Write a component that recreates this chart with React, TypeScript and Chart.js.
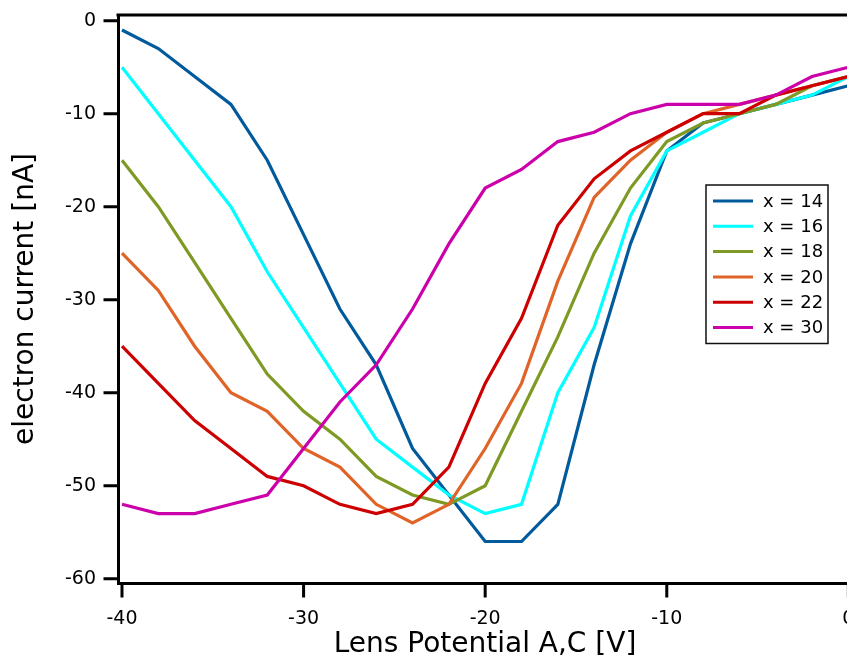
import React, { useEffect, useRef } from "react";
import { Chart, registerables } from "chart.js";

Chart.register(...registerables);

const lensPotential = [-40, -38, -36, -34, -32, -30, -28, -26, -24, -22, -20, -18, -16, -14, -12, -10, -8, -6, -4, -2, 0];

const current14 = [-1, -3, -6, -9, -15, -23, -31, -37, -46, -51, -56, -56, -52, -37, -24, -14, -11, -10, -9, -8, -7];
const current16 = [-5, -10, -15, -20, -27, -33, -39, -45, -48, -51, -53, -52, -40, -33, -21, -14, -12, -10, -9, -8, -6];
const current18 = [-15, -20, -26, -32, -38, -42, -45, -49, -51, -52, -50, -42, -34, -25, -18, -13, -11, -10, -9, -7, -6];
const current20 = [-25, -29, -35, -40, -42, -46, -48, -52, -54, -52, -46, -39, -28, -19, -15, -12, -10, -9, -8, -7, -6];
const current22 = [-35, -39, -43, -46, -49, -50, -52, -53, -52, -48, -39, -32, -22, -17, -14, -12, -10, -10, -8, -7, -6];
const current30 = [-52, -53, -53, -52, -51, -46, -41, -37, -31, -24, -18, -16, -13, -12, -10, -9, -9, -9, -8, -6, -5];

const seriesLabels = ["x = 14", "x = 16", "x = 18", "x = 20", "x = 22", "x = 30"];
const seriesColors = ["#005A9C", "#00FFFF", "#7E9A24", "#E06428", "#CC0000", "#CC00AA"];
const seriesValues = [current14, current16, current18, current20, current22, current30];

const xTicks = [-40, -30, -20, -10, 0];
const yTicks = [-60, -50, -40, -30, -20, -10, 0];

const FONT = '"DejaVu Sans", sans-serif';
const TICK_LEN = 14.5;

const framePlugin = {
  id: "frameAndLegend",
  afterDraw(chart: any) {
    const ctx = chart.ctx;
    const area = chart.chartArea;
    const xs = chart.scales.x;
    const ys = chart.scales.y;
    ctx.save();
    ctx.strokeStyle = "#000";
    ctx.lineWidth = 3;
    ctx.lineCap = "butt";
    // top & right frame
    ctx.beginPath();
    ctx.moveTo(area.left - 1.5, area.top);
    ctx.lineTo(area.right, area.top);
    ctx.lineTo(area.right, area.bottom + 1.5);
    ctx.stroke();
    // outward tick marks
    ctx.beginPath();
    for (const v of xTicks) {
      const px = xs.getPixelForValue(v);
      ctx.moveTo(px, area.bottom);
      ctx.lineTo(px, area.bottom + TICK_LEN);
    }
    for (const v of yTicks) {
      const py = ys.getPixelForValue(v);
      ctx.moveTo(area.left, py);
      ctx.lineTo(area.left - TICK_LEN, py);
    }
    ctx.stroke();

    // legend box
    const ds = chart.data.datasets;
    const left = 706;
    const top = 185;
    const w = 122;
    const pad = 16;
    const rowH = 25.3;
    const h = pad * 2 + rowH * (ds.length - 1);
    ctx.fillStyle = "#fff";
    ctx.fillRect(left, top, w, h);
    ctx.strokeStyle = "#111";
    ctx.lineWidth = 1.5;
    ctx.strokeRect(left, top, w, h);
    ctx.font = `18px ${FONT}`;
    ctx.textBaseline = "middle";
    ctx.textAlign = "left";
    ds.forEach((d: any, i: number) => {
      const y = top + pad + i * rowH;
      ctx.strokeStyle = d.borderColor;
      ctx.lineWidth = 3;
      ctx.beginPath();
      ctx.moveTo(left + 7, y);
      ctx.lineTo(left + 47, y);
      ctx.stroke();
      ctx.fillStyle = "#000";
      ctx.fillText(d.label, left + 57, y + 1);
    });
    ctx.restore();
  },
};

export default function App() {
  const ref = useRef<HTMLCanvasElement>(null);

  useEffect(() => {
    if (!ref.current) return;
    const datasets = seriesValues.map((vals, i) => ({
      label: seriesLabels[i],
      data: lensPotential.map((x, j) => ({ x, y: vals[j] })),
      borderColor: seriesColors[i],
      backgroundColor: seriesColors[i],
      borderWidth: 3.2,
      pointRadius: 0,
      tension: 0,
      fill: false,
      order: seriesValues.length - i,
    }));

    const chart = new Chart(ref.current, {
      type: "line",
      data: { datasets },
      options: {
        animation: false,
        responsive: false,
        devicePixelRatio: 1,
        layout: { padding: { top: 15, right: 28, bottom: 0, left: 0 } },
        plugins: {
          legend: { display: false },
          tooltip: { enabled: false },
        },
        scales: {
          x: {
            type: "linear",
            min: -40.22,
            max: 0.2,
            afterBuildTicks: (s: any) => {
              s.ticks = xTicks.map((v) => ({ value: v }));
            },
            afterFit: (s: any) => {
              s.height = 79;
              s.paddingLeft = 0;
              s.paddingRight = 0;
            },
            grid: { display: false, drawTicks: false },
            border: { display: true, color: "#000", width: 3 },
            ticks: {
              color: "#000",
              font: { family: FONT, size: 19 },
              padding: 25,
              maxRotation: 0,
              autoSkip: false,
            },
            title: {
              display: true,
              text: "Lens Potential A,C [V]",
              color: "#000",
              font: { family: FONT, size: 28 },
              padding: { top: 0, bottom: 0 },
            },
          },
          y: {
            type: "linear",
            min: -60.46,
            max: 0.61,
            afterBuildTicks: (s: any) => {
              s.ticks = yTicks.map((v) => ({ value: v }));
            },
            afterFit: (s: any) => {
              s.width = 118;
              s.paddingTop = 0;
              s.paddingBottom = 0;
            },
            grid: { display: false, drawTicks: false },
            border: { display: true, color: "#000", width: 3 },
            ticks: {
              color: "#000",
              font: { family: FONT, size: 19 },
              padding: 22,
              autoSkip: false,
            },
            title: {
              display: true,
              text: "electron current [nA]",
              color: "#000",
              font: { family: FONT, size: 28 },
              padding: { top: 9, bottom: 0 },
            },
          },
        },
      },
      plugins: [framePlugin],
    } as any);

    return () => chart.destroy();
  }, []);

  return (
    <div
      style={{
        position: "absolute",
        left: 0,
        top: 0,
        width: 847,
        height: 662,
        overflow: "hidden",
        background: "#fff",
      }}
    >
      <canvas ref={ref} width={880} height={662} style={{ display: "block", width: 880, height: 662 }} />
    </div>
  );
}
